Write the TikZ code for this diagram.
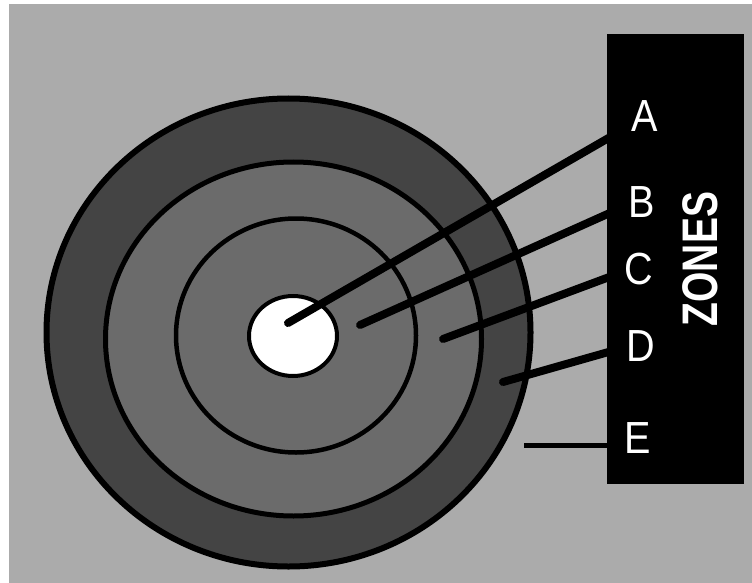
\documentclass[tikz,border=0pt]{standalone}
\usepackage{fontspec}
\setmainfont{Liberation Sans}
\definecolor{bgray}{HTML}{ABABAB}
\definecolor{ringdark}{HTML}{444444}
\definecolor{ringmid}{HTML}{6B6B6B}
\tikzset{
  ringline/.style={draw=black},
  pointer/.style={line width=8pt, line cap=round, black},
  zlabel/.style={text=white, font=\fontsize{45}{45}\selectfont, inner sep=0pt, xscale=0.88},
}
\begin{document}
\begin{tikzpicture}[x=1pt,y=-1pt]
\useasboundingbox (0,0) rectangle (752,583);
\fill[white] (0,0) rectangle (752,583);
\fill[bgray] (9,4) rectangle (752,583);
% target rings
\path[ringline, line width=6pt, fill=ringdark] (288.5,332.5) ellipse [x radius=242pt, y radius=234pt];
\path[ringline, line width=5pt, fill=ringmid] (293.5,339) ellipse [x radius=188pt, y radius=177pt];
\path[ringline, line width=4.5pt, fill=ringmid] (296,335.5) ellipse [x radius=120pt, y radius=117pt];
\path[ringline, line width=4pt, fill=white] (293,336) ellipse [x radius=44pt, y radius=40pt];
% pointer start points
\coordinate (sA) at (288,323);
\coordinate (sB) at (360,325);
\coordinate (sC) at (443,339);
\coordinate (sD) at (503,382);
\coordinate (sE) at (524,445);
% pointer ends (hidden under the box)
\coordinate (eA) at (612,136);
\coordinate (eB) at (612,212);
\coordinate (eC) at (612,276);
\coordinate (eD) at (612,351);
\coordinate (eE) at (612,445);
\draw[pointer] (sA) -- (eA);
\draw[pointer] (sB) -- (eB);
\draw[pointer] (sC) -- (eC);
\draw[pointer] (sD) -- (eD);
\draw[line width=5pt, black] (sE) -- (eE);
% box
\node[fill=black, minimum width=137pt, minimum height=450pt, inner sep=0pt, anchor=north west] (box) at (607,34) {};
% letters
\node[zlabel] (lA) at (645,116) {A};
\node[zlabel] (lB) at (642,202) {B};
\node[zlabel] (lC) at (639,269) {C};
\node[zlabel] (lD) at (641,346) {D};
\node[zlabel] (lE) at (638,438) {E};
\node[text=white, font=\fontsize{50}{50}\selectfont\bfseries, inner sep=0pt, rotate=90, xscale=0.78] (zones) at (700,259) {ZONES};
\end{tikzpicture}
\end{document}
